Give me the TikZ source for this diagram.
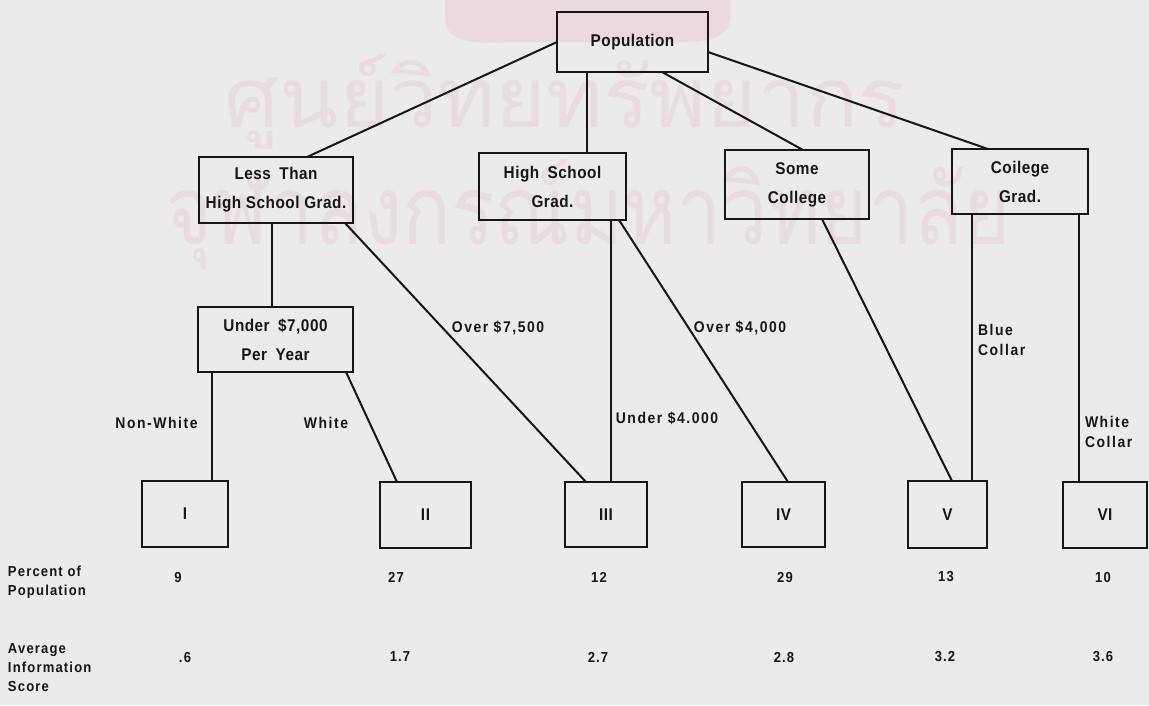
\documentclass[tikz,border=0pt]{standalone}
\usepackage{graphicx}
\usepackage{fontspec}
\setmainfont{Liberation Sans}[FakeStretch=0.9]
\newfontfamily\thaifont[Script=Thai]{Loma}
\definecolor{ink}{HTML}{161616}
\definecolor{paper}{HTML}{EBEBEA}
\definecolor{wm}{HTML}{E9DCE0}
\definecolor{wmblob}{HTML}{EBD9DE}
\newcommand\boxfont{\fontsize{17}{29}\selectfont\bfseries\addfontfeatures{LetterSpace=3}}
\newcommand\lblfont{\fontsize{15.5}{20}\selectfont\bfseries\addfontfeatures{LetterSpace=10}}
\newcommand\rowfont{\fontsize{14.5}{19}\selectfont\bfseries\addfontfeatures{LetterSpace=8}}
\begin{document}
\begin{tikzpicture}[x=1pt,y=-1pt,
  every node/.style={inner sep=0pt, outer sep=0pt, text=ink},
  tbox/.style={draw=ink, line width=2pt, align=center, font=\boxfont},
  conn/.style={draw=ink, line width=2pt},
  lbl/.style={font=\lblfont, align=left},
  rowlbl/.style={font=\rowfont, align=left, anchor=north west},
  num/.style={font=\rowfont},
  wmtext/.style={text=wm}]
\fill[paper] (0,0) rectangle (1149,705);
\useasboundingbox (0,0) rectangle (1149,705);
% watermark
\fill[wmblob] (445,0) -- (445,18) to[out=-90,in=180] (520,42) -- (690,42) to[out=0,in=-90] (730,18) -- (730,0) -- cycle;
\node[wmtext] (wm1) at (565,102) {\resizebox*{680pt}{95pt}{\thaifont ศูนย์วิทยทรัพยากร}};
\node[wmtext] (wm2) at (588,215) {\resizebox*{845pt}{110pt}{\thaifont จุฬาลงกรณ์มหาวิทยาลัย}};
% boxes
\node[tbox, minimum width=151pt, minimum height=60pt] (pop) at (632.5,42) {Population};
\node[tbox, minimum width=154pt, minimum height=66pt] (lt) at (276,190) {Less\enspace Than\\High School Grad.};
\node[tbox, minimum width=147pt, minimum height=67pt] (hs) at (552.5,186.5) {High\enspace School\\Grad.};
\node[tbox, minimum width=144pt, minimum height=69pt] (sc) at (797,184.5) {Some\\College};
\node[tbox, minimum width=136pt, minimum height=65pt] (cg) at (1020,181.5) {Coilege\\Grad.};
\node[tbox, minimum width=155pt, minimum height=65pt] (un) at (275.5,339.5) {Under\enspace \$7,000\\Per\enspace Year};
\node[tbox, minimum width=86pt, minimum height=66pt] (g1) at (185,514) {I};
\node[tbox, minimum width=91pt, minimum height=66pt] (g2) at (425.5,515) {II};
\node[tbox, minimum width=82pt, minimum height=65pt] (g3) at (606,514.5) {III};
\node[tbox, minimum width=83pt, minimum height=65pt] (g4) at (783.5,514.5) {IV};
\node[tbox, minimum width=79pt, minimum height=67pt] (g5) at (947.5,514.5) {V};
\node[tbox, minimum width=84pt, minimum height=66pt] (g6) at (1105,515) {VI};
% connectors
\draw[conn] (pop.west) -- ([xshift=31pt]lt.north);
\draw[conn] ([xshift=-45.5pt]pop.south) -- ([xshift=34.5pt]hs.north);
\draw[conn] ([xshift=29.5pt]pop.south) -- ([xshift=6pt]sc.north);
\draw[conn] ([yshift=-10pt]pop.east) -- ([xshift=-32pt]cg.north);
\draw[conn] ([xshift=-4pt]lt.south) -- ([xshift=-3.5pt]un.north);
\draw[conn] ([xshift=69pt]lt.south) -- ([xshift=-20pt]g3.north);
\draw[conn] ([xshift=-63.5pt]un.south) -- ([xshift=27pt]g1.north);
\draw[conn] ([xshift=70.5pt]un.south) -- ([xshift=-28.5pt]g2.north);
\draw[conn] ([xshift=58.5pt]hs.south) -- ([xshift=5pt]g3.north);
\draw[conn] ([xshift=66.5pt]hs.south) -- ([xshift=4.5pt]g4.north);
\draw[conn] ([xshift=25pt]sc.south) -- ([xshift=4.5pt]g5.north);
\draw[conn] ([xshift=-48pt]cg.south) -- ([xshift=24.5pt]g5.north);
\draw[conn] ([xshift=58.5pt]cg.south) -- ([xshift=-26.5pt]g6.north);
% connector labels
\node[lbl] (l1) at (156.5,423) {Non-White};
\node[lbl] (l2) at (326,423) {White};
\node[lbl] (l3) at (498,328) {Over \$7,500};
\node[lbl] (l4) at (740,328) {Over \$4,000};
\node[lbl] (l5) at (667,418) {Under \$4.000};
\node[lbl, anchor=west] (l6) at (978,340) {Blue\\Collar};
\node[lbl, anchor=west] (l7) at (1085,432) {White\\Collar};
% table
\node[rowlbl] (r1) at (8,566) {Percent of\\Population};
\node[rowlbl] (r2) at (8,644) {Average\\Information\\Score};
\node[num] (p1) at (178,577) {9};
\node[num] (p2) at (396,577) {27};
\node[num] (p3) at (599,577) {12};
\node[num] (p4) at (785,577) {29};
\node[num] (p5) at (946,577) {13};
\node[num] (p6) at (1103,577) {10};
\node[num] (s1) at (185,657) {.6};
\node[num] (s2) at (400,657) {1.7};
\node[num] (s3) at (598,657) {2.7};
\node[num] (s4) at (784,657) {2.8};
\node[num] (s5) at (945,657) {3.2};
\node[num] (s6) at (1103,657) {3.6};
\end{tikzpicture}
\end{document}
